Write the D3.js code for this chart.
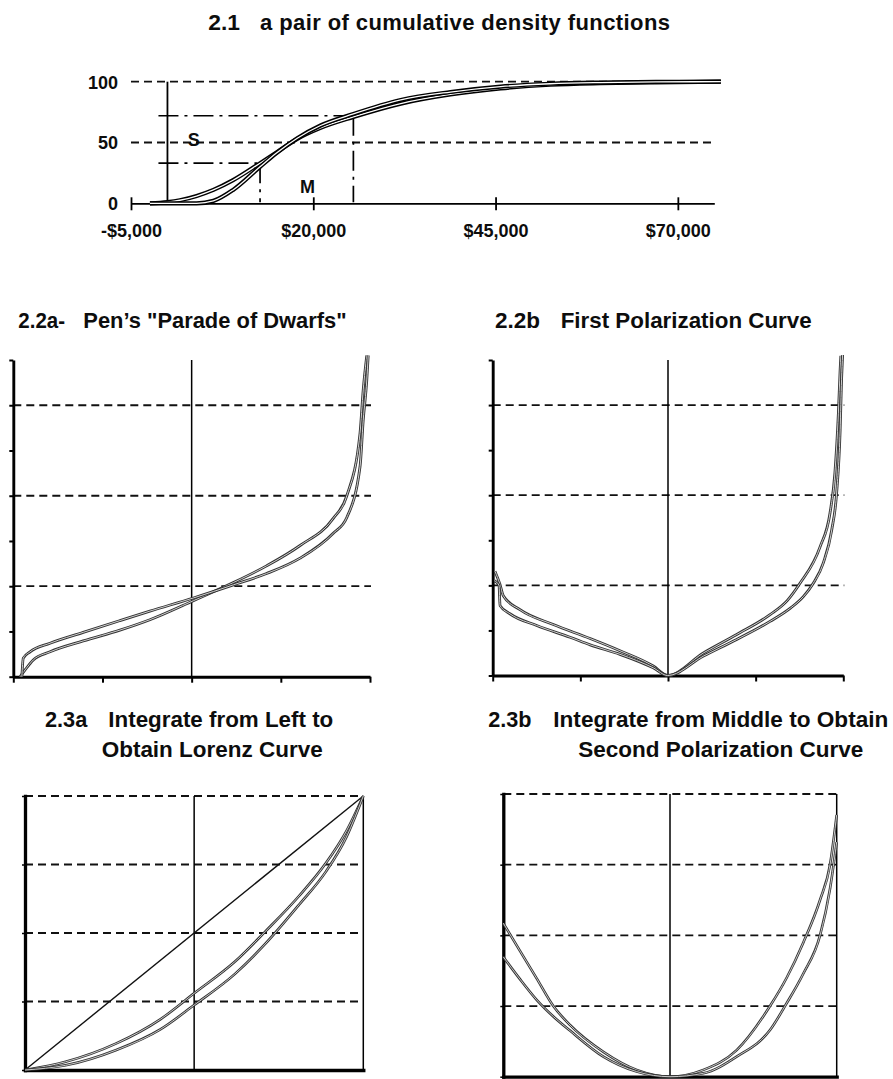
<!DOCTYPE html>
<html><head><meta charset="utf-8">
<script src="https://cdn.jsdelivr.net/npm/d3@7"></script>
<style>
html,body{margin:0;padding:0;background:#fff;}
svg{display:block;}
text{font-family:"Liberation Sans",Arial,sans-serif;font-weight:bold;fill:#0d0d0d;}
</style></head><body>
<svg id="chart" width="893" height="1079"></svg>
<script>
// ---------------- DATA ----------------
// 2.1 cumulative density functions (income in $, share in %)
const cdfIncome = [-2400, 0, 1700, 4000, 6300, 9000, 12700, 15000, 17800, 21000, 25500, 32000, 38800, 45700, 52500, 59400, 67000, 75900];
const cdfS      = [0, 1, 2.5, 6, 11, 19, 33, 42, 53, 62, 71, 82, 89.5, 94.5, 97.5, 98.8, 99.5, 100];
const cdfM      = [0, 0, 0, 0, 2, 11, 30, 41.5, 53.5, 64, 73.5, 85, 91.5, 96, 98.3, 99.3, 99.8, 100];
const cdfTicks = [-5000, 20000, 45000, 70000];
const cdfTickLabels = ["-$5,000", "$20,000", "$45,000", "$70,000"];
const cdfYTicks = [0, 50, 100];
const cdfGrid = [50, 100];
const markerIncome = [12700, 25500];
const markerShare = [33, 72];
const seriesLabels = ["S", "M"];

// 2.2a Pen's parade (population share %, income units 0-7)
const paradeSx = [1.9, 3.3, 5.6, 10.3, 19.6, 29.9, 38.3, 50.5, 61.7, 71, 80.4, 89.7, 93.5, 97.2, 98.1, 99.1];
const paradeSy = [0, 0.15, 0.37, 0.55, 0.79, 1.03, 1.26, 1.68, 2.08, 2.45, 2.9, 3.5, 4.0, 5.38, 6.34, 7.1];
const paradeMx = [2.4, 2.8, 4.7, 10.3, 19.6, 29.9, 38.3, 50.5, 61.7, 71, 80.4, 89.7, 93.5, 97.2, 98.1, 99.1, 99.5];
const paradeMy = [0, 0.41, 0.55, 0.74, 0.98, 1.24, 1.45, 1.74, 2.03, 2.28, 2.62, 3.17, 3.52, 4.64, 5.67, 6.56, 7.1];

// 2.2b first polarization curve
const pol1Sx = [0.66, 2.08, 3.02, 7.79, 17.3, 27.8, 36.3, 45.8, 49.9, 60.1, 69.6, 79.1, 84, 87.6, 93.4, 96.2, 97.6, 98.6, 99.1, 99.3];
const pol1Sy = [2.31, 2.02, 1.77, 1.46, 1.13, 0.82, 0.55, 0.21, 0, 0.5, 0.91, 1.35, 1.66, 2.04, 2.86, 3.6, 4.49, 5.82, 6.78, 7.09];
const pol1Mx = [0.5, 1.8, 2.1, 4.9, 12.55, 22.05, 27.8, 36.3, 45.8, 49.9, 60.1, 69.6, 79.1, 85, 88.6, 91.4, 94.3, 96.7, 98.1, 99.1, 99.5, 99.8];
const pol1My = [2.1, 2.0, 1.55, 1.37, 1.11, 0.85, 0.68, 0.47, 0.17, 0, 0.43, 0.8, 1.2, 1.5, 1.75, 2.04, 2.5, 3.23, 4.05, 5.45, 6.56, 7.11];

// 2.2 axis ticks
const paradeYTicks = [0, 1, 2, 3, 4, 5, 6, 7];
const paradeGrid = [2, 4, 6];
const quarterTicks = [0, 25, 50, 75, 100];

// 2.3a Lorenz curves
const lorenzX = [0, 12, 27, 40, 50, 62, 71, 81, 89, 95, 100];
const lorenzM = [0, 3, 9.7, 18.5, 28, 39.5, 50.5, 63.5, 75.6, 87.2, 100];
const lorenzS = [0, 1.7, 7.3, 14.8, 23.7, 35, 46, 60.3, 72.5, 85, 100];
const equalityX = [0, 100];
const equalityY = [0, 100];

// 2.3b second polarization curve
const pol2X = [0, 5, 10, 15, 20, 30, 40, 50, 60, 70, 80, 85, 90, 95, 98, 100];
const pol2S = [54.3, 44.5, 34.8, 25, 18.3, 8.8, 2.4, 0, 2.4, 9.4, 25, 35, 47.5, 62.5, 75, 92.6];
const pol2M = [42.4, 34.5, 27.2, 21.3, 16.3, 7.1, 1.8, 0, 1.2, 7.1, 16.5, 26, 36.5, 50, 66.5, 83];
const pol2Grid = [25, 50, 75, 100];

// titles
const titleNumbers = ["2.1", "2.2a-", "2.2b", "2.3a", "2.3b"];
const titleTexts = ["a pair of cumulative density functions", "Pen\u2019s \"Parade of Dwarfs\"", "First Polarization Curve", "Integrate from Left to", "Integrate from Middle to Obtain"];
const titleSecondLines = ["Obtain Lorenz Curve", "Second Polarization Curve"];

// ---------------- DRAWING ----------------
const svg = d3.select("#chart");
const zip = (xs, ys) => xs.map((v, i) => [v, ys[i]]);

function addText(x, y, str, size, w, adjust) {
  const t = svg.append("text").attr("x", x).attr("y", y).attr("font-size", size).text(str);
  if (w) t.attr("textLength", w).attr("lengthAdjust", adjust || "spacingAndGlyphs");
  return t;
}
function hollow(g, pts, line, outer, ow, inner, iw) {
  g.append("path").datum(pts).attr("d", line).attr("fill", "none")
    .attr("stroke", outer).attr("stroke-width", ow).attr("stroke-linejoin", "round");
  g.append("path").datum(pts).attr("d", line).attr("fill", "none")
    .attr("stroke", inner).attr("stroke-width", iw).attr("stroke-linejoin", "round");
}
function dashed(g, x1, x2, y1, y2) {
  g.append("line").attr("x1", x1).attr("x2", x2).attr("y1", y1).attr("y2", y2)
    .attr("stroke", "#111").attr("stroke-width", 1.8).attr("stroke-dasharray", "8,5");
}
function solid(g, x1, x2, y1, y2, w) {
  g.append("line").attr("x1", x1).attr("x2", x2).attr("y1", y1).attr("y2", y2)
    .attr("stroke", "#000").attr("stroke-width", w);
}

// ---- Titles ----
addText(208.3, 30, titleNumbers[0], 22, 31.7);
addText(260, 30, titleTexts[0], 22, 410, "spacing");
addText(18.3, 328.3, titleNumbers[1], 22, 46.7);
addText(83.3, 328.3, titleTexts[1], 22, 263.4);
addText(495, 328.3, titleNumbers[2], 22, 45);
addText(560.7, 328.3, titleTexts[2], 22, 251);
addText(45, 726.7, titleNumbers[3], 22, 42.3);
addText(108.3, 726.7, titleTexts[3], 22, 225);
addText(101.7, 756.7, titleSecondLines[0], 22, 221);
addText(488.3, 726.7, titleNumbers[4], 22, 43.3);
addText(553.3, 726.7, titleTexts[4], 22, 335);
addText(578.3, 756.7, titleSecondLines[1], 22, 285);

// ---- 2.1 ----
(function () {
  const x = d3.scaleLinear().domain([-5000, 75000]).range([131, 714.3]);
  const y = d3.scaleLinear().domain([0, 100]).range([203.3, 81.7]);
  const g = svg.append("g");
  cdfGrid.forEach(v => dashed(g, x(-5000), x(75000), y(v), y(v)));

  const xa = d3.axisBottom(x).tickValues(cdfTicks).tickFormat((d, i) => cdfTickLabels[i])
    .tickSize(7).tickSizeOuter(0);
  g.append("g").attr("transform", `translate(0,${y(0)})`).call(xa).call(s => {
    s.attr("font-family", null).attr("font-size", null);
    s.select(".domain").attr("stroke", "#000").attr("stroke-width", 1.8);
    s.selectAll(".tick line").attr("y1", -6).attr("stroke", "#000").attr("stroke-width", 1.8);
    s.selectAll(".tick text").attr("y", 34).attr("dy", 0).attr("font-size", 18).attr("fill", "#0d0d0d");
  });
  const ya = d3.axisLeft(y).tickValues(cdfYTicks).tickSize(0).tickPadding(13);
  g.append("g").attr("transform", `translate(${x(-5000)},0)`).call(ya).call(s => {
    s.attr("font-family", null).attr("font-size", null);
    s.select(".domain").remove();
    s.selectAll(".tick text").attr("font-size", 18).attr("dy", "0.36em").attr("fill", "#0d0d0d");
  });
  // vertical line at zero income
  solid(g, x(0), x(0), y(0), y(100), 1.8);

  // dash-dot markers
  markerIncome.forEach((m, i) => {
    const yy = y(markerShare[i]);
    g.append("line").attr("x1", x(0) - 9).attr("x2", x(m)).attr("y1", yy).attr("y2", yy)
      .attr("stroke", "#000").attr("stroke-width", 1.7).attr("stroke-dasharray", "20,6,3,6");
    g.append("line").attr("x1", x(m)).attr("x2", x(m)).attr("y1", yy).attr("y2", y(0) - 1)
      .attr("stroke", "#000").attr("stroke-width", 1.7).attr("stroke-dasharray", "20,6,3,6");
  });

  const line = d3.line().x(d => x(d[0])).y(d => y(d[1])).curve(d3.curveMonotoneX);
  hollow(g, zip(cdfIncome, cdfS), line, "#000", 4.2, "#fff", 1.3);
  hollow(g, zip(cdfIncome, cdfM), line, "#000", 4.2, "#fff", 1.3);

  g.append("text").attr("x", x(3600)).attr("y", y(47)).attr("text-anchor", "middle")
    .attr("font-size", 18).text(seriesLabels[0]);
  g.append("text").attr("x", x(19200)).attr("y", y(8.5)).attr("text-anchor", "middle")
    .attr("font-size", 18).text(seriesLabels[1]);
})();

// ---- 2.2 panels ----
function panel22(xr, yr, sPts, mPts) {
  const x = d3.scaleLinear().domain([0, 100]).range(xr);
  const y = d3.scaleLinear().domain([0, 7]).range(yr);
  const g = svg.append("g");
  paradeGrid.forEach(v => dashed(g, x(0), x(100) + 1, y(v), y(v)));
  solid(g, x(50), x(50), y(7), y(0), 1.5);
  const ax = d3.axisLeft(y).tickValues(paradeYTicks).tickSize(4).tickSizeOuter(0).tickFormat("");
  g.append("g").attr("transform", `translate(${x(0)},0)`).call(ax).call(s => {
    s.select(".domain").attr("stroke", "#000").attr("stroke-width", 2.9);
    s.selectAll(".tick line").attr("stroke", "#000").attr("stroke-width", 2);
  });
  const bx = d3.axisBottom(x).tickValues(quarterTicks).tickSize(6).tickSizeOuter(0).tickFormat("");
  g.append("g").attr("transform", `translate(0,${y(0)})`).call(bx).call(s => {
    s.select(".domain").attr("stroke", "#000").attr("stroke-width", 2.9);
    s.selectAll(".tick line").attr("stroke", "#000").attr("stroke-width", 2);
  });
  const line = d3.line().x(d => x(d[0])).y(d => y(d[1])).curve(d3.curveMonotoneX);
  hollow(g, sPts, line, "#333", 2.8, "#d0d0d0", 1.0);
  hollow(g, mPts, line, "#333", 2.8, "#d0d0d0", 1.0);
}
panel22([13.3, 370], [676.7, 360], zip(paradeSx, paradeSy), zip(paradeMx, paradeMy));
panel22([492.7, 843.3], [675.5, 360], zip(pol1Sx, pol1Sy), zip(pol1Mx, pol1My));

// ---- 2.3 panels ----
function panel23(xr, yr, curves, diagonal) {
  const x = d3.scaleLinear().domain([0, 100]).range(xr);
  const y = d3.scaleLinear().domain([0, 100]).range(yr);
  const g = svg.append("g");
  pol2Grid.forEach(v => dashed(g, x(0), x(100), y(v), y(v)));
  solid(g, x(50), x(50), y(100), y(0), 1.5);
  solid(g, x(100), x(100), y(100), y(0), 1.5);
  const ax = d3.axisLeft(y).tickValues(quarterTicks).tickSize(3).tickSizeOuter(0).tickFormat("");
  g.append("g").attr("transform", `translate(${x(0)},0)`).call(ax).call(s => {
    s.select(".domain").attr("stroke", "#000").attr("stroke-width", 3.3).attr("stroke-linecap", "square");
    s.selectAll(".tick line").attr("stroke", "#000").attr("stroke-width", 1.5);
  });
  const bx = d3.axisBottom(x).tickValues([]).tickSizeOuter(0);
  g.append("g").attr("transform", `translate(0,${y(0)})`).call(bx).call(s => {
    s.select(".domain").attr("stroke", "#000").attr("stroke-width", 3.3).attr("stroke-linecap", "square");
  });
  const line = d3.line().x(d => x(d[0])).y(d => y(d[1])).curve(d3.curveMonotoneX);
  if (diagonal) {
    g.append("path").datum(diagonal).attr("d", d3.line().x(d => x(d[0])).y(d => y(d[1])))
      .attr("fill", "none").attr("stroke", "#111").attr("stroke-width", 1.4);
  }
  curves.forEach(c => hollow(g, c, line, "#333", 2.6, "#d0d0d0", 0.95));
}
panel23([25, 363.3], [1070, 796], [zip(lorenzX, lorenzM), zip(lorenzX, lorenzS)], zip(equalityX, equalityY));
panel23([503.3, 836.7], [1076.7, 794], [zip(pol2X, pol2S), zip(pol2X, pol2M)], null);
</script>
</body></html>
